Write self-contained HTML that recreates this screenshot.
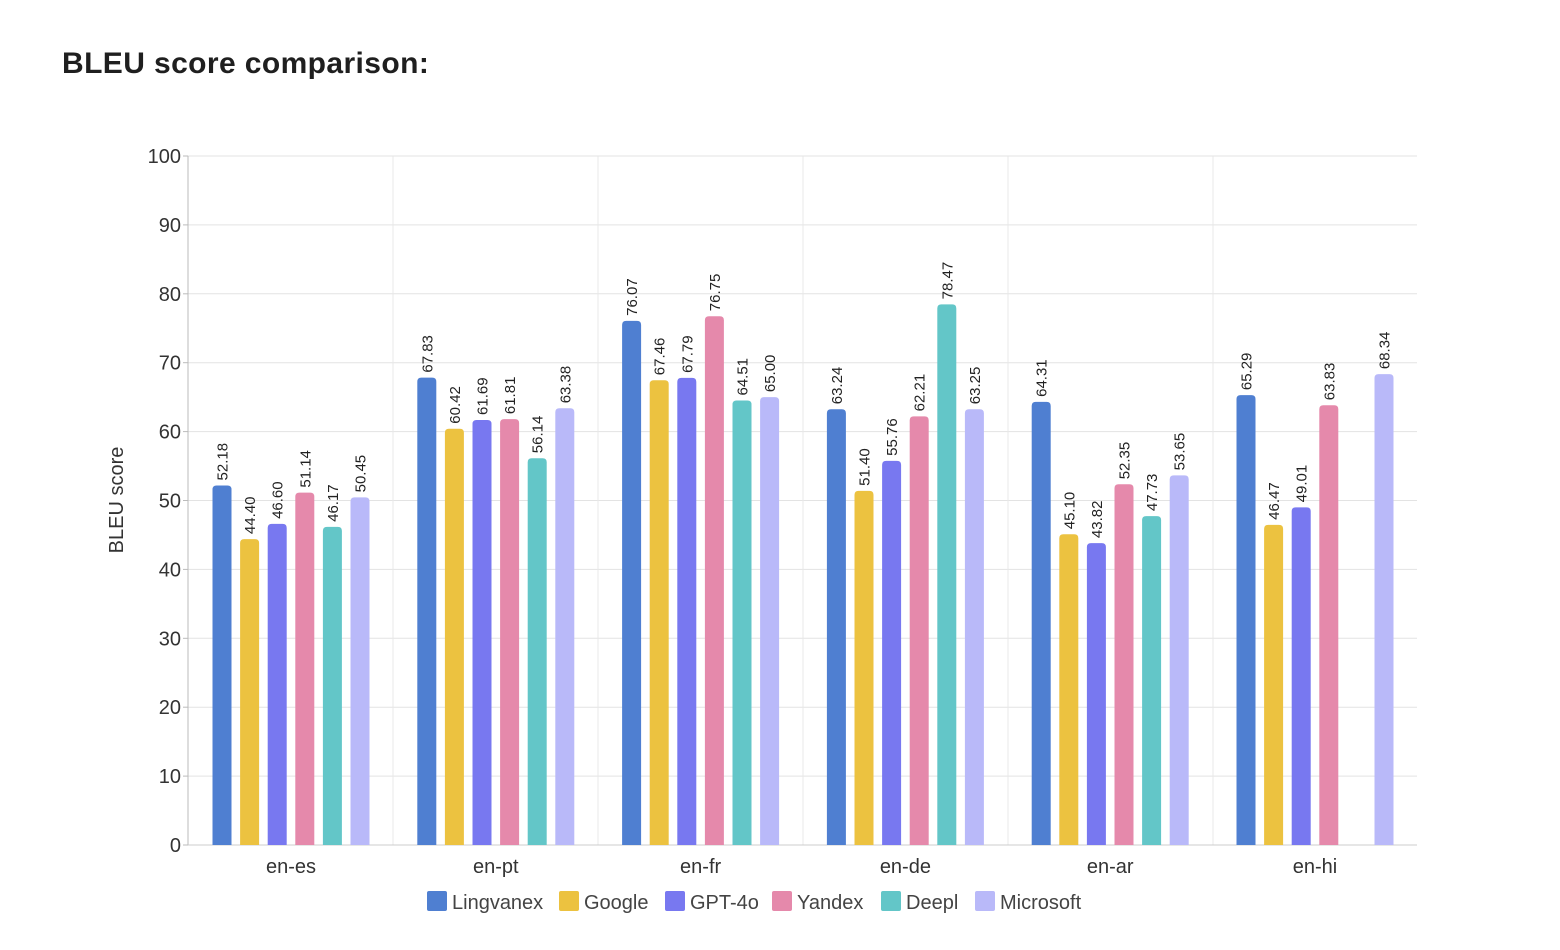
<!DOCTYPE html>
<html><head><meta charset="utf-8"><style>
body{margin:0;background:#fff;width:1560px;height:950px;overflow:hidden;font-family:"Liberation Sans",sans-serif}
h1{position:absolute;left:62px;top:47px;margin:0;font-size:30px;letter-spacing:0.4px;font-weight:bold;color:#1f1f1f}
svg{position:absolute;left:0;top:0}
</style></head><body>
<h1>BLEU score comparison:</h1>
<svg id="s" width="1560" height="950" font-family="Liberation Sans, sans-serif"></svg>
<script>
const s=document.getElementById('s');let h='';
const y=v=>845-v*6.89;
for(let v=10;v<=100;v+=10)h+=`<line x1="188" x2="1417" y1="${y(v)}" y2="${y(v)}" stroke="#e3e3e3"/>`;
for(const x of [393,598,803,1008,1213])h+=`<line x1="${x}" x2="${x}" y1="156" y2="845" stroke="#e8e8e8"/>`;
h+=`<line x1="188" x2="188" y1="156" y2="845" stroke="#bbb"/><line x1="188" x2="1417" y1="845" y2="845" stroke="#ccc"/>`;
for(let v=0;v<=100;v+=10){h+=`<text x="181" y="${y(v)+7}" text-anchor="end" font-size="20" fill="#333">${v}</text><line x1="183" x2="188" y1="${y(v)}" y2="${y(v)}" stroke="#bbb"/>`;}
h+=`<text transform="translate(123,500) rotate(-90)" text-anchor="middle" font-size="20" fill="#333">BLEU score</text>`;
const cols=['#4f7fd1','#ecc240','#7878f0','#e589ab','#63c6c8','#b9b9f9'];
const names=['Lingvanex','Google','GPT-4o','Yandex','Deepl','Microsoft'];
const g=[['en-es',[52.18,44.40,46.60,51.14,46.17,50.45]],['en-pt',[67.83,60.42,61.69,61.81,56.14,63.38]],['en-fr',[76.07,67.46,67.79,76.75,64.51,65.00]],['en-de',[63.24,51.40,55.76,62.21,78.47,63.25]],['en-ar',[64.31,45.10,43.82,52.35,47.73,53.65]],['en-hi',[65.29,46.47,49.01,63.83,null,68.34]]];
g.forEach((gg,j)=>{const gc=291+j*204.8;
h+=`<text x="${gc}" y="873" text-anchor="middle" font-size="20" fill="#333">${gg[0]}</text>`;
gg[1].forEach((v,i)=>{if(v==null)return;const cx=gc+(i-2.5)*27.6,t=y(v);
h+=`<path d="M${cx-9.5},845V${t+4}Q${cx-9.5},${t} ${cx-5.5},${t}H${cx+5.5}Q${cx+9.5},${t} ${cx+9.5},${t+4}V845Z" fill="${cols[i]}"/>`;
h+=`<text transform="translate(${cx+5.5},${t-5}) rotate(-90)" font-size="15" fill="#222">${v.toFixed(2)}</text>`;});});
let lx=427;names.forEach((n,i)=>{h+=`<rect x="${lx}" y="891" width="20" height="20" rx="2" fill="${cols[i]}"/><text x="${lx+25}" y="909" font-size="20" fill="#444">${n}</text>`;lx+=[132,106,107,109,94,0][i];});
s.innerHTML=h;
</script>
</body></html>
